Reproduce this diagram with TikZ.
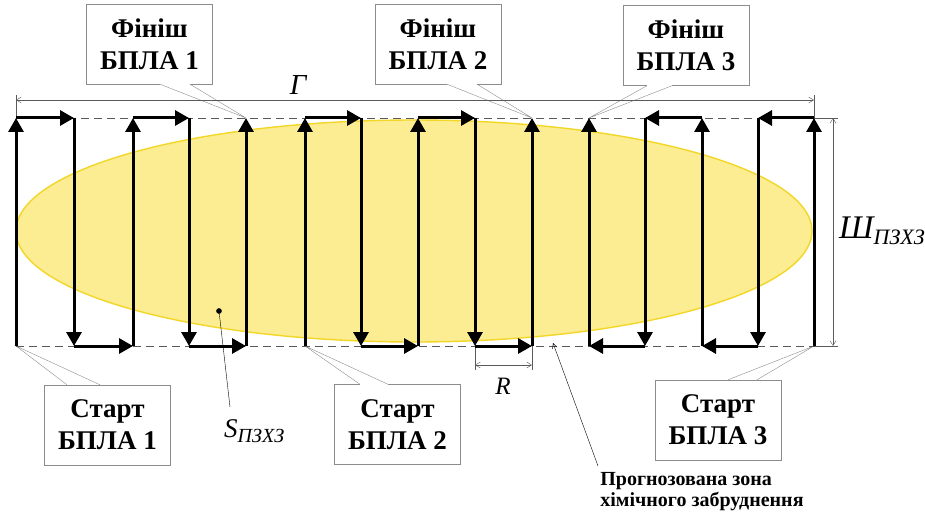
\documentclass[tikz,border=0pt]{standalone}
\usepackage{fontspec}
\setmainfont{Liberation Serif}
\usepackage{tikz}
\usetikzlibrary{arrows.meta}
\definecolor{zonefill}{RGB}{252,236,146}
\definecolor{zoneedge}{RGB}{242,214,40}
\definecolor{boxgray}{RGB}{140,140,140}
\definecolor{dimgray}{RGB}{90,90,90}
\tikzset{
  route/.style={line width=3pt, -{Triangle[length=14pt, width=15pt]}},
  dimline/.style={thin, dimgray, {Straight Barb[length=5pt, width=6pt]}-{Straight Barb[length=5pt, width=6pt]}},
  callout/.style={draw=boxgray, fill=white, minimum width=126pt, minimum height=80pt,
    align=center, font=\fontsize{27}{32}\selectfont\bfseries},
  sizelabel/.style={inner sep=0pt, font=\itshape}
}
\newcommand{\subidx}[2]{{\fontsize{#1}{#1}\selectfont #2}}

\begin{document}
\begin{tikzpicture}[x=1pt, y=-1pt]
\useasboundingbox (0,0) rectangle (925,513);

% turning points of the passes
\foreach \x [count=\i] in {16,74,133,189,246,305,361,418,475,532,589,645,702,758,814} {
  \coordinate (t\i) at (\x,118);
  \coordinate (b\i) at (\x,346);
}

% forecast zone
\draw[zoneedge, line width=1.4pt, fill=zonefill] (414,231) ellipse [x radius=398pt, y radius=111pt];

% callouts
\node[callout] (f1) at (149.5,44) {Фініш\\БПЛА 1};
\node[callout] (f2) at (438,44) {Фініш\\БПЛА 2};
\node[callout] (f3) at (686,45.5) {Фініш\\БПЛА 3};
\node[callout] (s1) at (107.5,425) {Старт\\БПЛА 1};
\node[callout] (s2) at (397.5,424.5) {Старт\\БПЛА 2};
\node[callout] (s3) at (718,420) {Старт\\БПЛА 3};
\foreach \n/\s/\a/\b/\tip in {f1/south/10.5/40.5/t5, f2/south/9/39/t10, f3/south/-39/-14/t11,
    s1/north/-40.5/-7.5/b1, s2/north/-37.5/-9.5/b6, s3/north/10/39/b15} {
  \draw[white, line width=1.2pt] ([xshift=\a pt]\n.\s) -- ([xshift=\b pt]\n.\s);
  \draw[boxgray, thin] ([xshift=\a pt]\n.\s) -- (\tip) -- ([xshift=\b pt]\n.\s);
}

% borders of the zone strip
\draw[dimgray, dash pattern=on 8pt off 5pt] (t1) -- (t15);
\draw[dimgray, dash pattern=on 8pt off 5pt] (b1) -- (b15);

% dimensions
\coordinate (gl) at (16,100);
\coordinate (gr) at (814,100);
\draw[thin, dimgray] (t1) -- (16,95);
\draw[thin, dimgray] (t15) -- (814,95);
\draw[dimline] (gl) -- (gr);
\node[sizelabel, font=\fontsize{29}{29}\selectfont\itshape] (gamma) at (298,85) {Г};

\coordinate (wt) at (833,118);
\coordinate (wb) at (833,346);
\draw[thin, dimgray] (t15) -- (838,118);
\draw[thin, dimgray] (b15) -- (838,346);
\draw[dimline] (wt) -- (wb);
\node[sizelabel, font=\fontsize{33}{33}\selectfont\itshape, anchor=west] (width) at (839,231)
  {Ш\raisebox{-6pt}{\subidx{22}{ПЗХЗ}}};

\coordinate (rl) at (475,365);
\coordinate (rr) at (532,365);
\draw[thin, dimgray] (b9) -- (475,370);
\draw[thin, dimgray] (b10) -- (532,370);
\draw[dimline] (rl) -- (rr);
\node[sizelabel, font=\fontsize{25}{25}\selectfont\itshape] (radius) at (503,386) {R};

% area of the zone
\node[circle, fill, inner sep=2pt] (sdot) at (219,311) {};
\coordinate (sfoot) at (230,407);
\draw[thin] (sdot) -- (sfoot);
\node[sizelabel, font=\fontsize{27}{27}\selectfont\itshape, anchor=west] (area) at (224,431)
  {S\raisebox{-5pt}{\subidx{20}{ПЗХЗ}}};

% zone caption
\node[inner sep=0pt, align=left, font=\fontsize{20}{21}\selectfont\bfseries] (zone) at (702,492)
  {Прогнозована зона\\хімічного забруднення};
\coordinate (zfoot) at (598,466);
\coordinate (zedge) at (553,343);
\draw[thin, -{Straight Barb[length=5pt, width=5pt]}] (zfoot) -- (zedge);

% passes of the three drones
\foreach \a/\b in {b1/t1, t1/t2, t2/b2, b2/b3, b3/t3, t3/t4, t4/b4, b4/b5, b5/t5}
  \draw[route] (\a) -- (\b);
\foreach \a/\b in {b6/t6, t6/t7, t7/b7, b7/b8, b8/t8, t8/t9, t9/b9, b9/b10, b10/t10}
  \draw[route] (\a) -- (\b);
\foreach \a/\b in {b15/t15, t15/t14, t14/b14, b14/b13, b13/t13, t13/t12, t12/b12, b12/b11, b11/t11}
  \draw[route] (\a) -- (\b);

\end{tikzpicture}
\end{document}
